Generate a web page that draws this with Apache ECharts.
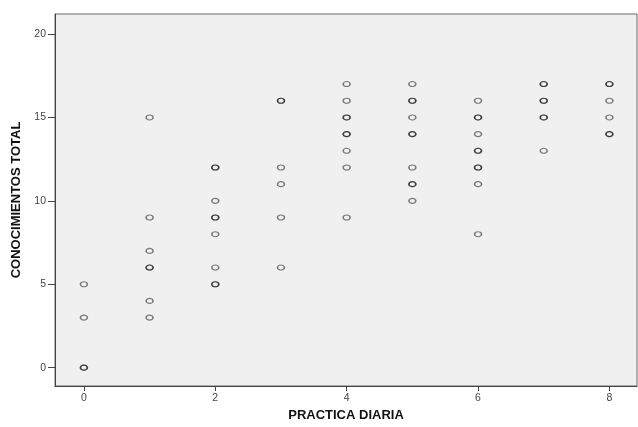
<!DOCTYPE html>
<html>
<head>
<meta charset="utf-8">
<script src="https://cdn.jsdelivr.net/npm/echarts@6/dist/echarts.min.js"></script>
<style>
html,body{margin:0;padding:0;background:#fff;}
#chart{width:638px;height:427px;}
</style>
</head>
<body>
<div id="chart"></div>
<script>
// Data (duplicates repeated where markers appear darker)
var practicaDiaria = [
  0,0,0,0,
  1,1,1,1,1,1,1,
  2,2,2,2,2,2,2,2,2,
  3,3,3,3,3,3,
  4,4,4,4,4,4,4,4,4,
  5,5,5,5,5,5,5,5,5,5,
  6,6,6,6,6,6,6,6,6,6,
  7,7,7,7,7,7,7,
  8,8,8,8,8,8
];
var conocimientosTotal = [
  0,0,3,5,
  3,4,6,6,7,9,15,
  5,5,6,8,9,9,10,12,12,
  6,9,11,12,16,16,
  9,12,13,14,14,15,15,16,17,
  10,11,11,12,14,14,15,16,16,17,
  8,11,12,12,13,13,14,15,15,16,
  13,15,15,16,16,17,17,
  14,14,15,16,17,17
];
var xTicks = [0, 2, 4, 6, 8];
var yTicks = [0, 5, 10, 15, 20];

var points = practicaDiaria.map(function (x, i) { return [x, conocimientosTotal[i]]; });

var font = "'Liberation Sans', Arial, sans-serif";
var chart = echarts.init(document.getElementById('chart'), null, {renderer: 'canvas'});
chart.setOption({
  animation: false,
  backgroundColor: '#ffffff',
  grid: {
    left: 55, right: 1, top: 14, bottom: 37,
    show: true,
    backgroundColor: '#f0f0f0',
    borderColor: '#6a6a6a',
    borderWidth: 1
  },
  xAxis: {
    type: 'value',
    min: -0.44, max: 8.42,
    name: 'PRACTICA DIARIA',
    nameLocation: 'middle',
    nameGap: 23,
    nameTextStyle: {fontFamily: font, fontWeight: 'bold', fontSize: 13, color: '#111'},
    axisLine: {show: true, onZero: false, lineStyle: {color: '#444', width: 1}},
    axisTick: {show: true, inside: false, length: 5, customValues: xTicks, lineStyle: {color: '#444'}},
    axisLabel: {customValues: xTicks, fontFamily: font, fontSize: 10.5, color: '#444', margin: 7},
    splitLine: {show: false}
  },
  yAxis: {
    type: 'value',
    min: -1.1, max: 21.2,
    name: 'CONOCIMIENTOS TOTAL',
    nameLocation: 'middle',
    nameGap: 28,
    nameTextStyle: {fontFamily: font, fontWeight: 'bold', fontSize: 13, color: '#111'},
    axisLine: {show: true, onZero: false, lineStyle: {color: '#444', width: 1}},
    axisTick: {show: true, inside: false, length: 7, customValues: yTicks, lineStyle: {color: '#444'}},
    axisLabel: {customValues: yTicks, fontFamily: font, fontSize: 10.5, color: '#444', margin: 9},
    splitLine: {show: false}
  },
  series: [{
    type: 'scatter',
    data: points,
    symbol: 'circle',
    symbolSize: [7, 5],
    itemStyle: {color: 'rgba(0,0,0,0)', borderColor: 'rgba(0,0,0,0.62)', borderWidth: 1.3},
    emphasis: {disabled: true}
  }]
});
</script>
</body>
</html>
